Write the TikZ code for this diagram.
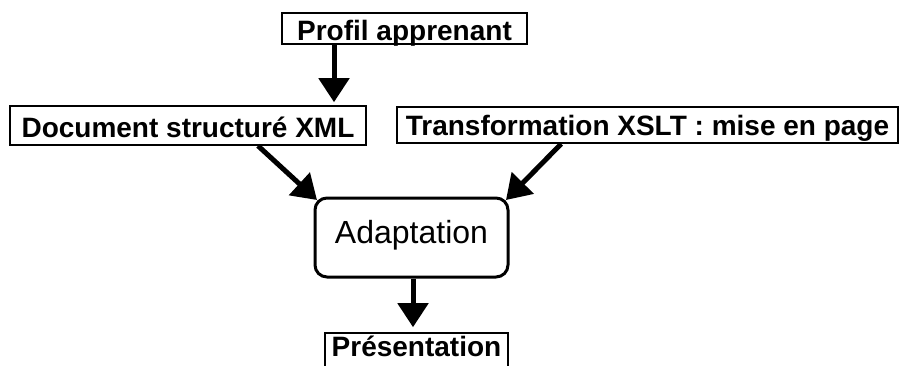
\documentclass[tikz,border=0pt]{standalone}
\usepackage{fontspec}
\setmainfont{Liberation Sans}
\usetikzlibrary{arrows.meta}
\begin{document}
\begin{tikzpicture}[x=1pt,y=-1pt,
  box/.style={draw, line width=1.6pt, inner sep=0pt, text depth=0pt,
    font=\bfseries\fontsize{28}{30}\selectfont},
  rbox/.style={draw, line width=3pt, inner sep=0pt, rounded corners=12pt, text depth=0pt,
    font=\fontsize{32}{34}\selectfont},
  arr/.style={line width=5pt, -{Triangle[width=30pt,length=24pt]}}]
\fill[white] (0,0) rectangle (899,365);
\useasboundingbox (0,0) rectangle (899,365);
\clip (0,0) rectangle (899,365);
\node[box, minimum width=245pt, minimum height=31pt, text height=23pt] (profil) at (404.5,28.5) {Profil apprenant};
\node[box, minimum width=356pt, minimum height=39pt, text height=23pt] (doc) at (188,125.5) {Document structuré XML};
\node[box, minimum width=501pt, minimum height=36pt, text height=20pt] (trans) at (647.5,125) {Transformation XSLT : mise en page};
\node[rbox, minimum width=193pt, minimum height=79pt, text height=11pt] (adapt) at (411.5,237.5) {Adaptation};
\node[box, minimum width=183pt, minimum height=37pt, text height=9pt] (pres) at (416.5,351.5) {Présentation};
\draw[arr, shorten >=3pt] ([xshift=-70.5pt]profil.south) -- ([xshift=-70.5pt]profil.south |- doc.north);
\draw[arr] ([xshift=70pt]doc.south) -- ([shift={(3.5,3.5)}]adapt.north west);
\draw[arr] ([xshift=165pt]trans.south west) -- ([shift={(-3.5,3.5)}]adapt.north east);
\draw[arr, shorten >=5pt] ([xshift=1.5pt]adapt.south) -- ([xshift=1.5pt]adapt.south |- pres.north);
\end{tikzpicture}
\end{document}
